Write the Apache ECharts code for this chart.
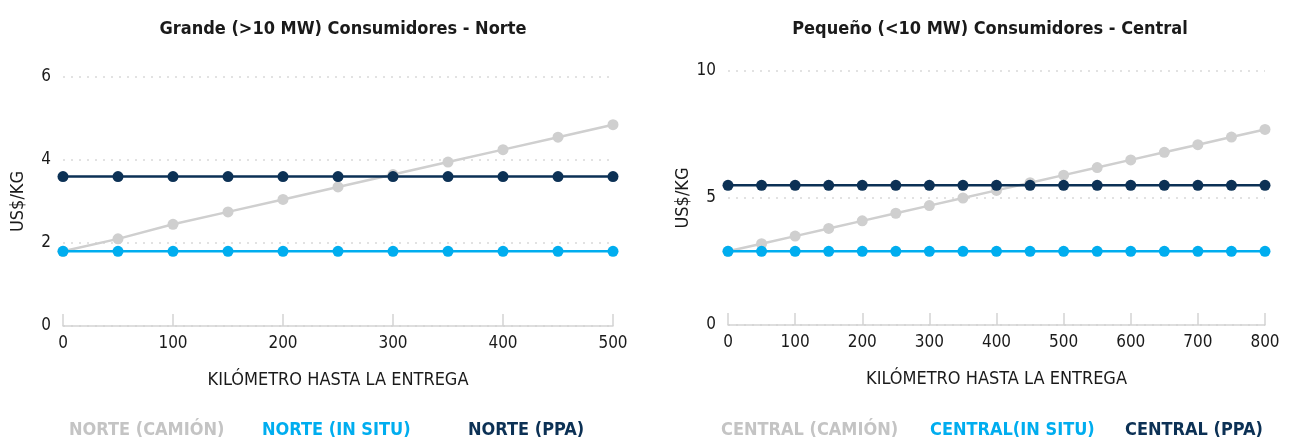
<!DOCTYPE html>
<html><head><meta charset="utf-8">
<script src="https://cdn.jsdelivr.net/npm/echarts@6/dist/echarts.min.js"></script>
<style>html,body{margin:0;padding:0;background:#fff}#c{width:1293px;height:444px}</style>
</head><body><div id="c"></div>
<script>
const FONT = '"Liberation Sans Narrow","DejaVu Sans Condensed","Roboto",sans-serif';
// Left chart (Norte)
const kmNorte = [0,50,100,150,200,250,300,350,400,450,500];
const norteCamion = [1.8,2.1,2.45,2.75,3.05,3.35,3.65,3.95,4.25,4.55,4.85];
const norteInSitu = [1.8,1.8,1.8,1.8,1.8,1.8,1.8,1.8,1.8,1.8,1.8];
const nortePPA = [3.6,3.6,3.6,3.6,3.6,3.6,3.6,3.6,3.6,3.6,3.6];
// Right chart (Central)
const kmCentral = [0,50,100,150,200,250,300,350,400,450,500,550,600,650,700,750,800];
const centralCamion = [2.9,3.2,3.5,3.8,4.1,4.4,4.7,5.0,5.3,5.6,5.9,6.2,6.5,6.8,7.1,7.4,7.7];
const centralInSitu = [2.9,2.9,2.9,2.9,2.9,2.9,2.9,2.9,2.9,2.9,2.9,2.9,2.9,2.9,2.9,2.9,2.9];
const centralPPA = [5.5,5.5,5.5,5.5,5.5,5.5,5.5,5.5,5.5,5.5,5.5,5.5,5.5,5.5,5.5,5.5,5.5];

const titles = ['Grande (>10 MW) Consumidores - Norte','Pequeño (<10 MW) Consumidores - Central'];
const namesNorte = ['NORTE (CAMIÓN)','NORTE (IN SITU)','NORTE (PPA)'];
const namesCentral = ['CENTRAL (CAMIÓN)','CENTRAL(IN SITU)','CENTRAL (PPA)'];
const xName = 'KILÓMETRO HASTA LA ENTREGA';
const yName = 'US$/KG';

const COLORS = ['#cfcfcf','#00adef','#0c3155'];
const LEGEND_COLORS = ['#c4c4c4','#00adef','#0c3155'];
const pair = (xs, ys) => xs.map((x,i)=>[x, ys[i]]);

function ser(name, data, color, idx){
  return {type:'line', name, data, xAxisIndex:idx, yAxisIndex:idx,
    symbol:'circle', symbolSize:11, showSymbol:true,
    lineStyle:{color, width:2.5}, itemStyle:{color}, z: name.includes('PPA')?3:(name.includes('IN')?2:1)};
}
const chart = echarts.init(document.getElementById('c'));
const axisTxt = {color:'#1a1a1a', fontFamily:FONT, fontSize:17};
function xAxis(idx, max){
  return {type:'value', gridIndex:idx, min:0, max, interval:100,
    name:xName, nameLocation:'middle', nameGap:45, nameTextStyle:{color:'#1a1a1a', fontFamily:FONT, fontSize:18},
    axisLine:{show:true, lineStyle:{color:'#d4d4d4', width:1.5}},
    axisTick:{show:true, inside:true, length:12, lineStyle:{color:'#d4d4d4', width:1.5}},
    axisLabel:{...axisTxt, margin:9}, splitLine:{show:false}};
}
function yAxis(idx, max, interval){
  return {type:'value', gridIndex:idx, min:0, max, interval,
    name:yName, nameLocation:'middle', nameGap:36, nameTextStyle:{color:'#1a1a1a', fontFamily:FONT, fontSize:18},
    axisLine:{show:false}, axisTick:{show:false},
    axisLabel:{...axisTxt, margin:12},
    splitLine:{show:true, lineStyle:{color:'#d9d9d9', type:[2,6], width:1.5}}};
}
function legendItem(name, i, left){
  return {left, top:421, icon:'none', itemWidth:0, itemGap:0, padding:0,
    data:[{name, textStyle:{color:LEGEND_COLORS[i]}}],
    textStyle:{fontFamily:FONT, fontSize:18, fontWeight:'bold'}, selectedMode:false};
}
const legendLeftNorte = [64, 257, 463];
const legendLeftCentral = [716, 925, 1120];
chart.setOption({
  animation:false,
  title:[
    {text:titles[0], left:338, top:15, textAlign:'center', textStyle:{fontFamily:FONT, fontSize:18, fontWeight:600, color:'#1a1a1a'}},
    {text:titles[1], left:985, top:15, textAlign:'center', textStyle:{fontFamily:FONT, fontSize:18, fontWeight:600, color:'#1a1a1a'}}
  ],
  grid:[
    {left:63, right:680, top:77, bottom:118},
    {left:728, right:28, top:71, bottom:119}
  ],
  xAxis:[xAxis(0,500), xAxis(1,800)],
  yAxis:[yAxis(0,6,2), yAxis(1,10,5)],
  legend:[
    ...namesNorte.map((n,i)=>legendItem(n,i,legendLeftNorte[i])),
    ...namesCentral.map((n,i)=>legendItem(n,i,legendLeftCentral[i]))
  ],
  series:[
    ser(namesNorte[0], pair(kmNorte,norteCamion), COLORS[0], 0),
    ser(namesNorte[1], pair(kmNorte,norteInSitu), COLORS[1], 0),
    ser(namesNorte[2], pair(kmNorte,nortePPA), COLORS[2], 0),
    ser(namesCentral[0], pair(kmCentral,centralCamion), COLORS[0], 1),
    ser(namesCentral[1], pair(kmCentral,centralInSitu), COLORS[1], 1),
    ser(namesCentral[2], pair(kmCentral,centralPPA), COLORS[2], 1)
  ]
});
</script></body></html>
